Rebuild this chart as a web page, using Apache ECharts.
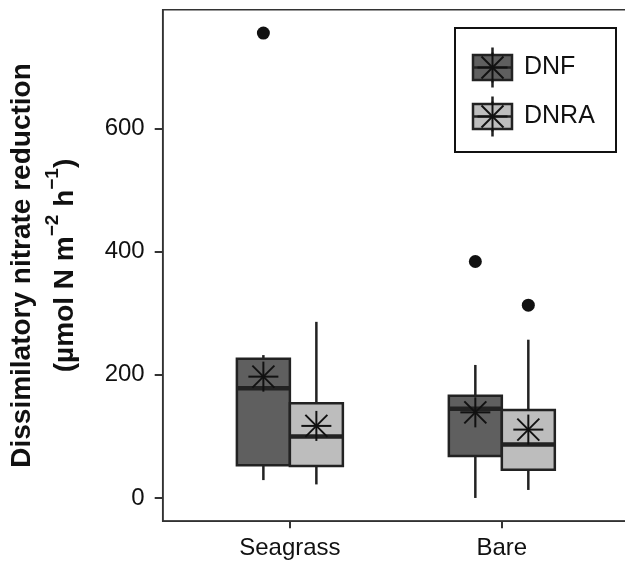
<!DOCTYPE html>
<html>
<head>
<meta charset="utf-8">
<script src="https://cdn.jsdelivr.net/npm/echarts@6/dist/echarts.min.js"></script>
<style>
  html, body { margin: 0; padding: 0; background: #fff; }
  #chart { width: 625px; height: 561px; }
</style>
</head>
<body>
<div id="chart"></div>
<script>
// categories and series
const categories = ['Seagrass', 'Bare']
const seriesNames = ['DNF', 'DNRA']

// box stats per category: [lower whisker, q1, median, q3, upper whisker]
const dnfBox = [[29, 53, 178, 226, 232], [0, 68, 145, 166, 216]]
const dnraBox = [[22, 52, 100, 154, 286], [13, 46, 87, 143, 257]]

// means (drawn as asterisks)
const dnfMean = [197, 139]
const dnraMean = [117, 111]

// outliers: [category index, value]
const dnfOutliers = [[0, 755], [1, 384]]
const dnraOutliers = [[1, 313]]

const yTicks = [0, 200, 400, 600]

const FONT = '"Liberation Sans", Arial, sans-serif'
const FILLS = { DNF: '#5f5f5f', DNRA: '#bdbdbd' }
const EDGE = '#222'
const DODGE = 0.125
const BOX_W = 0.25

// asterisk (pch 8 style) around a pixel point
const star = (cx, cy) => {
  const a = 15, d = 11
  const seg = (x1, y1, x2, y2) => ({
    type: 'line',
    shape: { x1: cx + x1, y1: cy + y1, x2: cx + x2, y2: cy + y2 },
    style: { stroke: '#111', lineWidth: 2 }
  })
  return [seg(-a, 0, a, 0), seg(0, -a, 0, a), seg(-d, -d, d, d), seg(-d, d, d, -d)]
}

const boxData = (boxes, means, offset) =>
  boxes.map((b, i) => [i + 1 + offset, ...b, means[i]])

const renderBox = name => (params, api) => {
  const x = api.value(0)
  const p = k => api.coord([x, api.value(k)])
  const lo = p(1), q1 = p(2), med = p(3), q3 = p(4), hi = p(5), mean = p(6)
  const half = api.size([BOX_W, 0])[0] / 2
  const cx = lo[0]
  return {
    type: 'group',
    children: [
      { type: 'line', shape: { x1: cx, y1: hi[1], x2: cx, y2: q3[1] }, style: { stroke: EDGE, lineWidth: 2.5 } },
      { type: 'line', shape: { x1: cx, y1: q1[1], x2: cx, y2: lo[1] }, style: { stroke: EDGE, lineWidth: 2.5 } },
      {
        type: 'rect',
        shape: { x: cx - half, y: q3[1], width: half * 2, height: q1[1] - q3[1] },
        style: { fill: FILLS[name], stroke: EDGE, lineWidth: 2.5 }
      },
      { type: 'line', shape: { x1: cx - half, y1: med[1], x2: cx + half, y2: med[1] }, style: { stroke: EDGE, lineWidth: 4.5 } },
      ...star(cx, mean[1])
    ]
  }
}

const outlierData = (list, offset) => list.map(o => [o[0] + 1 + offset, o[1]])

// legend drawn by hand (box-style keys like ggplot)
const legendKey = (top, name) => {
  const x = 473, w = 39, h = 25
  const mid = top + h / 2
  return [
    { type: 'line', shape: { x1: x + w / 2, y1: mid - 20, x2: x + w / 2, y2: mid + 20 }, style: { stroke: EDGE, lineWidth: 2.5 } },
    { type: 'rect', shape: { x: x, y: top, width: w, height: h }, style: { fill: FILLS[name], stroke: EDGE, lineWidth: 2.5 } },
    { type: 'line', shape: { x1: x, y1: mid, x2: x + w, y2: mid }, style: { stroke: EDGE, lineWidth: 2.5 } },
    ...star(x + w / 2, mid),
    { type: 'text', style: { x: 524, y: mid, text: name, font: '25px ' + FONT, fill: '#111', verticalAlign: 'middle' } }
  ]
}

const chart = echarts.init(document.getElementById('chart'))

chart.setOption({
  backgroundColor: '#fff',
  animation: false,
  grid: {
    left: 162.7, right: -4, top: 9.8, bottom: 39.8,
    containLabel: false,
    outerBoundsMode: 'none',
    show: true, borderColor: '#333', borderWidth: 1.5
  },
  xAxis: {
    type: 'value',
    min: 0.4, max: 2.6,
    splitLine: { show: false },
    axisLine: { show: true, onZero: false, lineStyle: { color: '#333', width: 1.5 } },
    axisTick: { show: true, customValues: [1, 2], length: 7, lineStyle: { color: '#333', width: 2 } },
    axisLabel: {
      customValues: [1, 2],
      formatter: v => categories[Math.round(v) - 1],
      fontSize: 24, fontFamily: FONT, color: '#111', margin: 15
    }
  },
  yAxis: {
    type: 'value',
    min: -37.75, max: 792.75,
    splitLine: { show: false },
    axisLine: { show: true, onZero: false, lineStyle: { color: '#333', width: 1.5 } },
    axisTick: { show: true, customValues: yTicks, length: 8, lineStyle: { color: '#333', width: 2 } },
    axisLabel: { customValues: yTicks, fontSize: 24, fontFamily: FONT, color: '#111', margin: 18 },
    name: '{b|Dissimilatory nitrate reduction}\n{b|(µmol N m}{s|−2}{b| h}{s|−1}{b|)}',
    nameLocation: 'middle',
    nameRotate: 90,
    nameGap: 76,
    nameTextStyle: {
      rich: {
        b: { fontSize: 28, fontWeight: 'bold', fontFamily: FONT, color: '#111', lineHeight: 43 },
        s: { fontSize: 19, fontWeight: 'bold', fontFamily: FONT, color: '#111', lineHeight: 24, verticalAlign: 'top' }
      }
    }
  },
  series: [
    { name: 'DNF', type: 'custom', renderItem: renderBox('DNF'), data: boxData(dnfBox, dnfMean, -DODGE), z: 2 },
    { name: 'DNRA', type: 'custom', renderItem: renderBox('DNRA'), data: boxData(dnraBox, dnraMean, DODGE), z: 2 },
    {
      name: 'DNF outliers', type: 'scatter', data: outlierData(dnfOutliers, -DODGE),
      symbol: 'circle', symbolSize: 13, itemStyle: { color: '#111', opacity: 1 }, z: 3
    },
    {
      name: 'DNRA outliers', type: 'scatter', data: outlierData(dnraOutliers, DODGE),
      symbol: 'circle', symbolSize: 13, itemStyle: { color: '#111', opacity: 1 }, z: 3
    }
  ],
  graphic: [
    {
      type: 'group',
      z: 10,
      children: [
        { type: 'rect', shape: { x: 455, y: 28, width: 161, height: 124 }, style: { fill: '#fff', stroke: '#111', lineWidth: 2 } },
        ...legendKey(55, seriesNames[0]),
        ...legendKey(104, seriesNames[1])
      ]
    }
  ]
})

window.addEventListener('resize', () => chart.resize())
</script>
</body>
</html>
